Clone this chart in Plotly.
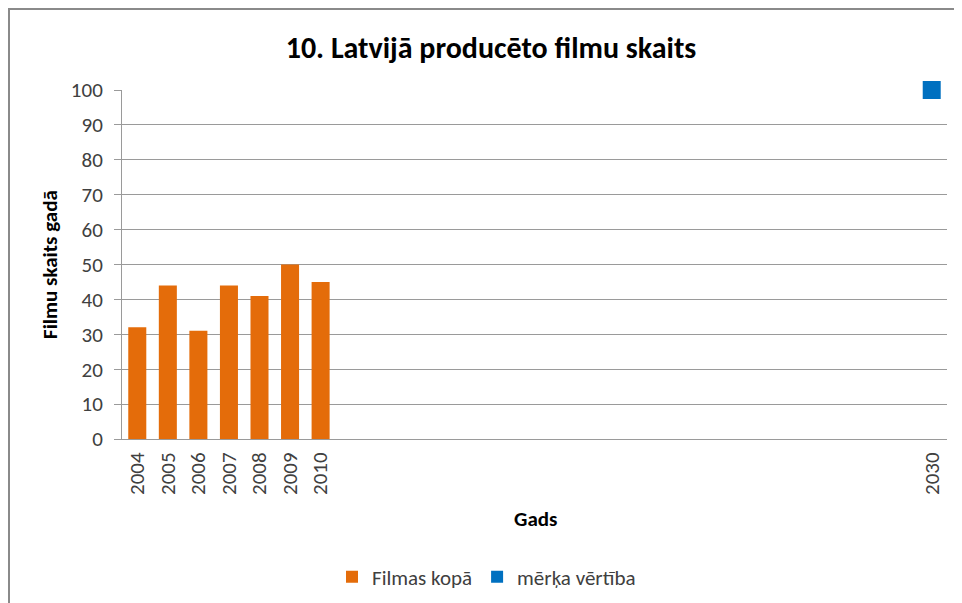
import plotly.graph_objects as go

years = [2004, 2005, 2006, 2007, 2008, 2009, 2010]
films = [32, 44, 31, 44, 41, 50, 45]
target_year = [2030]
target_value = [100]
tick_years = [2004, 2005, 2006, 2007, 2008, 2009, 2010, 2030]
tick_labels = [str(y) for y in tick_years]
y_ticks = list(range(0, 101, 10))

FONT = "Carlito, Lato, sans-serif"
GRID = "#9a9a9a"

fig = go.Figure()
fig.add_trace(go.Bar(
    x=years, y=films, name="Filmas kopā", width=0.59,
    marker=dict(color="#E46C0A", line=dict(width=0)),
))
fig.add_trace(go.Scatter(
    x=target_year, y=target_value, name="mērķa vērtība", mode="markers",
    marker=dict(symbol="square", size=18, color="#0070C0"), cliponaxis=False,
))

OFF = 8  # page body margin
W, H = 962 - OFF, 603 - OFF
# plot area in page pixels: x 122..947, y 90..439
L, R, T, B = 122 - OFF, 962 - 947, 90 - OFF, 603 - 439
pw, ph = W - L - R, H - T - B

def px(x):
    return (x - OFF - L) / pw

def py(y):
    return (H - B - (y - OFF)) / ph

def cx(x):
    return (x - OFF) / W

def cy(y):
    return 1 - (y - OFF) / H

fig.update_layout(
    template="none",
    width=W, height=H,
    margin=dict(l=L, r=R, t=T, b=B, pad=0, autoexpand=False),
    paper_bgcolor="white", plot_bgcolor="white",
    font=dict(family=FONT, size=21, color="#404040"),
    title=dict(text="<b>10. Latvijā producēto filmu skaits</b>",
               x=cx(491), xref="container", xanchor="center",
               y=cy(47), yref="container", yanchor="middle",
               font=dict(family=FONT, size=30, color="black")),
    xaxis=dict(
        range=[2003.5, 2030.5], tickmode="array", tickvals=tick_years, ticktext=tick_labels,
        tickangle=-90, showgrid=False, showline=True, linecolor=GRID, linewidth=1,
        ticks="", zeroline=False, automargin=False, ticklabelstandoff=4,
        tickfont=dict(size=21, color="#404040"),
    ),
    yaxis=dict(
        range=[0, 100], tickvals=y_ticks, showgrid=True, gridcolor=GRID, gridwidth=1,
        showline=True, linecolor=GRID, linewidth=1, ticks="outside", ticklen=7,
        tickcolor=GRID, zeroline=False, automargin=False, ticklabelstandoff=7,
        tickfont=dict(size=21, color="#404040"),
    ),
    annotations=[
        dict(text="<b>Gads</b>", xref="paper", yref="paper", x=px(535), y=py(519),
             xanchor="center", yanchor="middle", showarrow=False,
             font=dict(family=FONT, size=21, color="black")),
        dict(text="<b>Filmu skaits gadā</b>", xref="paper", yref="paper", x=px(50), y=py(265),
             xanchor="center", yanchor="middle", showarrow=False, textangle=-90,
             font=dict(family=FONT, size=21, color="black")),
    ],
    legend=dict(orientation="h", xref="container", yref="container",
                x=cx(332), xanchor="left", y=cy(577), yanchor="middle",
                font=dict(size=21, color="#404040"), itemsizing="constant",
                tracegroupgap=0, itemwidth=30, bgcolor="rgba(0,0,0,0)"),
    bargap=0.4,
    shapes=[dict(type="rect", xref="paper", yref="paper",
                 x0=px(9), x1=px(975), y0=py(620), y1=py(9),
                 line=dict(color="#8a8a8a", width=2), layer="below")],
    showlegend=True,
)

fig.write_html("out.html")
